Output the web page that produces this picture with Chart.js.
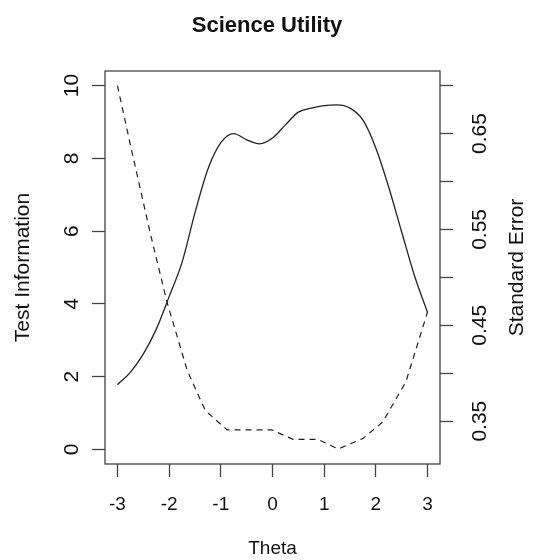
<!DOCTYPE html>
<html>
<head>
<meta charset="utf-8">
<title>Science Utility</title>
<script src="https://cdn.jsdelivr.net/npm/chart.js@4.4.1/dist/chart.umd.min.js"></script>
<style>
  body { margin: 0; background: #fff; }
  #chart { display: block; }
</style>
</head>
<body>
<canvas id="chart" width="534" height="560"></canvas>
<script>
// test information (solid line, left axis)
const infoTheta = [-3, -2.75, -2.5, -2.25, -2, -1.75, -1.5, -1.25, -1, -0.75, -0.5, -0.25, 0,
                   0.25, 0.5, 0.75, 1, 1.25, 1.5, 1.75, 2, 2.25, 2.5, 2.75, 3];
const infoValues = [1.78, 2.12, 2.62, 3.3, 4.2, 5.14, 6.5, 7.7, 8.43, 8.68, 8.51, 8.4, 8.56,
                    8.92, 9.27, 9.38, 9.45, 9.47, 9.38, 9.05, 8.28, 7.2, 5.97, 4.76, 3.76];

// standard error (dashed line, right axis)
const seTheta = [-3, -2.74, -2.36, -2.04, -1.65, -1.3, -0.88, -0.02, 0.4, 0.88, 1.27, 1.75, 2.13, 2.58, 3];
const seValues = [0.700, 0.636, 0.545, 0.474, 0.403, 0.361, 0.341, 0.341, 0.331, 0.331, 0.321, 0.332, 0.349, 0.391, 0.464];

const thetaTicks = [-3, -2, -1, 0, 1, 2, 3];
const infoTicks = [0, 2, 4, 6, 8, 10];
const seTicks = [0.35, 0.40, 0.45, 0.50, 0.55, 0.60, 0.65, 0.70];
const seLabels = [0.35, 0.45, 0.55, 0.65];

Chart.defaults.font.family = "'Liberation Sans', Arial, sans-serif";
Chart.defaults.color = '#111';

const ink = '#444';

// box around the plot and the right-hand axis title (reads bottom to top, as in R)
const frame = {
    id: 'frame',
    afterDraw(chart) {
        const {ctx, chartArea: a} = chart;
        ctx.save();
        ctx.strokeStyle = ink;
        ctx.lineWidth = 1.3;
        ctx.strokeRect(a.left, a.top, a.right - a.left, a.bottom - a.top);
        ctx.translate(517, (a.top + a.bottom) / 2);
        ctx.rotate(-Math.PI / 2);
        ctx.font = "21px 'Liberation Sans', Arial, sans-serif";
        ctx.fillStyle = '#111';
        ctx.textAlign = 'center';
        ctx.textBaseline = 'middle';
        ctx.fillText('Standard Error', 0, 0);
        ctx.restore();
    }
};

const tickGrid = { drawOnChartArea: false, tickLength: 13, tickColor: ink, tickWidth: 1.3 };

const ctx = document.querySelector('#chart').getContext('2d');

const chart = new Chart(ctx, {
    type: 'line',
    data: {
        datasets: [{
            label: 'Test Information',
            data: infoTheta.map((t, i) => ({x: t, y: infoValues[i]})),
            yAxisID: 'y',
            borderColor: '#222',
            borderWidth: 1.3,
            pointRadius: 0,
            cubicInterpolationMode: 'monotone'
        }, {
            label: 'Standard Error',
            data: seTheta.map((t, i) => ({x: t, y: seValues[i]})),
            yAxisID: 'y2',
            borderColor: '#222',
            borderWidth: 1.2,
            borderDash: [6, 5],
            pointRadius: 0,
            tension: 0
        }]
    },
    options: {
        responsive: false,
        animation: false,
        events: [],
        plugins: {
            legend: { display: false },
            tooltip: { enabled: false },
            title: {
                display: true,
                text: 'Science Utility',
                color: '#111',
                font: { size: 22, weight: 'bold' },
                padding: { top: 13, bottom: 31.6 }
            }
        },
        scales: {
            x: {
                type: 'linear',
                min: -3.24,
                max: 3.24,
                afterBuildTicks: s => { s.ticks = thetaTicks.map(v => ({value: v})); },
                afterFit: s => { s.height = 96; },
                grid: tickGrid,
                border: { display: false },
                ticks: { padding: 16, font: { size: 19 }, maxRotation: 0, autoSkip: false },
                title: { display: true, text: 'Theta', font: { size: 19 }, padding: { top: 0, bottom: 0 } }
            },
            y: {
                position: 'left',
                min: -0.4,
                max: 10.4,
                afterBuildTicks: s => { s.ticks = infoTicks.map(v => ({value: v})); },
                afterFit: s => { s.width = 105; },
                grid: tickGrid,
                border: { display: false },
                ticks: { minRotation: 90, maxRotation: 90, crossAlign: 'center', padding: 8.3, font: { size: 21 }, autoSkip: false },
                title: { display: true, text: 'Test Information', font: { size: 21 }, padding: { top: 10.4, bottom: 0 } }
            },
            y2: {
                position: 'right',
                min: 0.30532,
                max: 0.71518,
                afterBuildTicks: s => { s.ticks = seTicks.map(v => ({value: v})); },
                afterFit: s => { s.width = 94; },
                grid: tickGrid,
                border: { display: false },
                ticks: {
                    minRotation: 90, maxRotation: 90, crossAlign: 'center', padding: 6.6, font: { size: 21 }, autoSkip: false,
                    callback: v => seLabels.some(l => Math.abs(l - v) < 1e-9) ? v.toFixed(2) : ''
                }
            }
        }
    },
    plugins: [frame]
});
</script>
</body>
</html>
